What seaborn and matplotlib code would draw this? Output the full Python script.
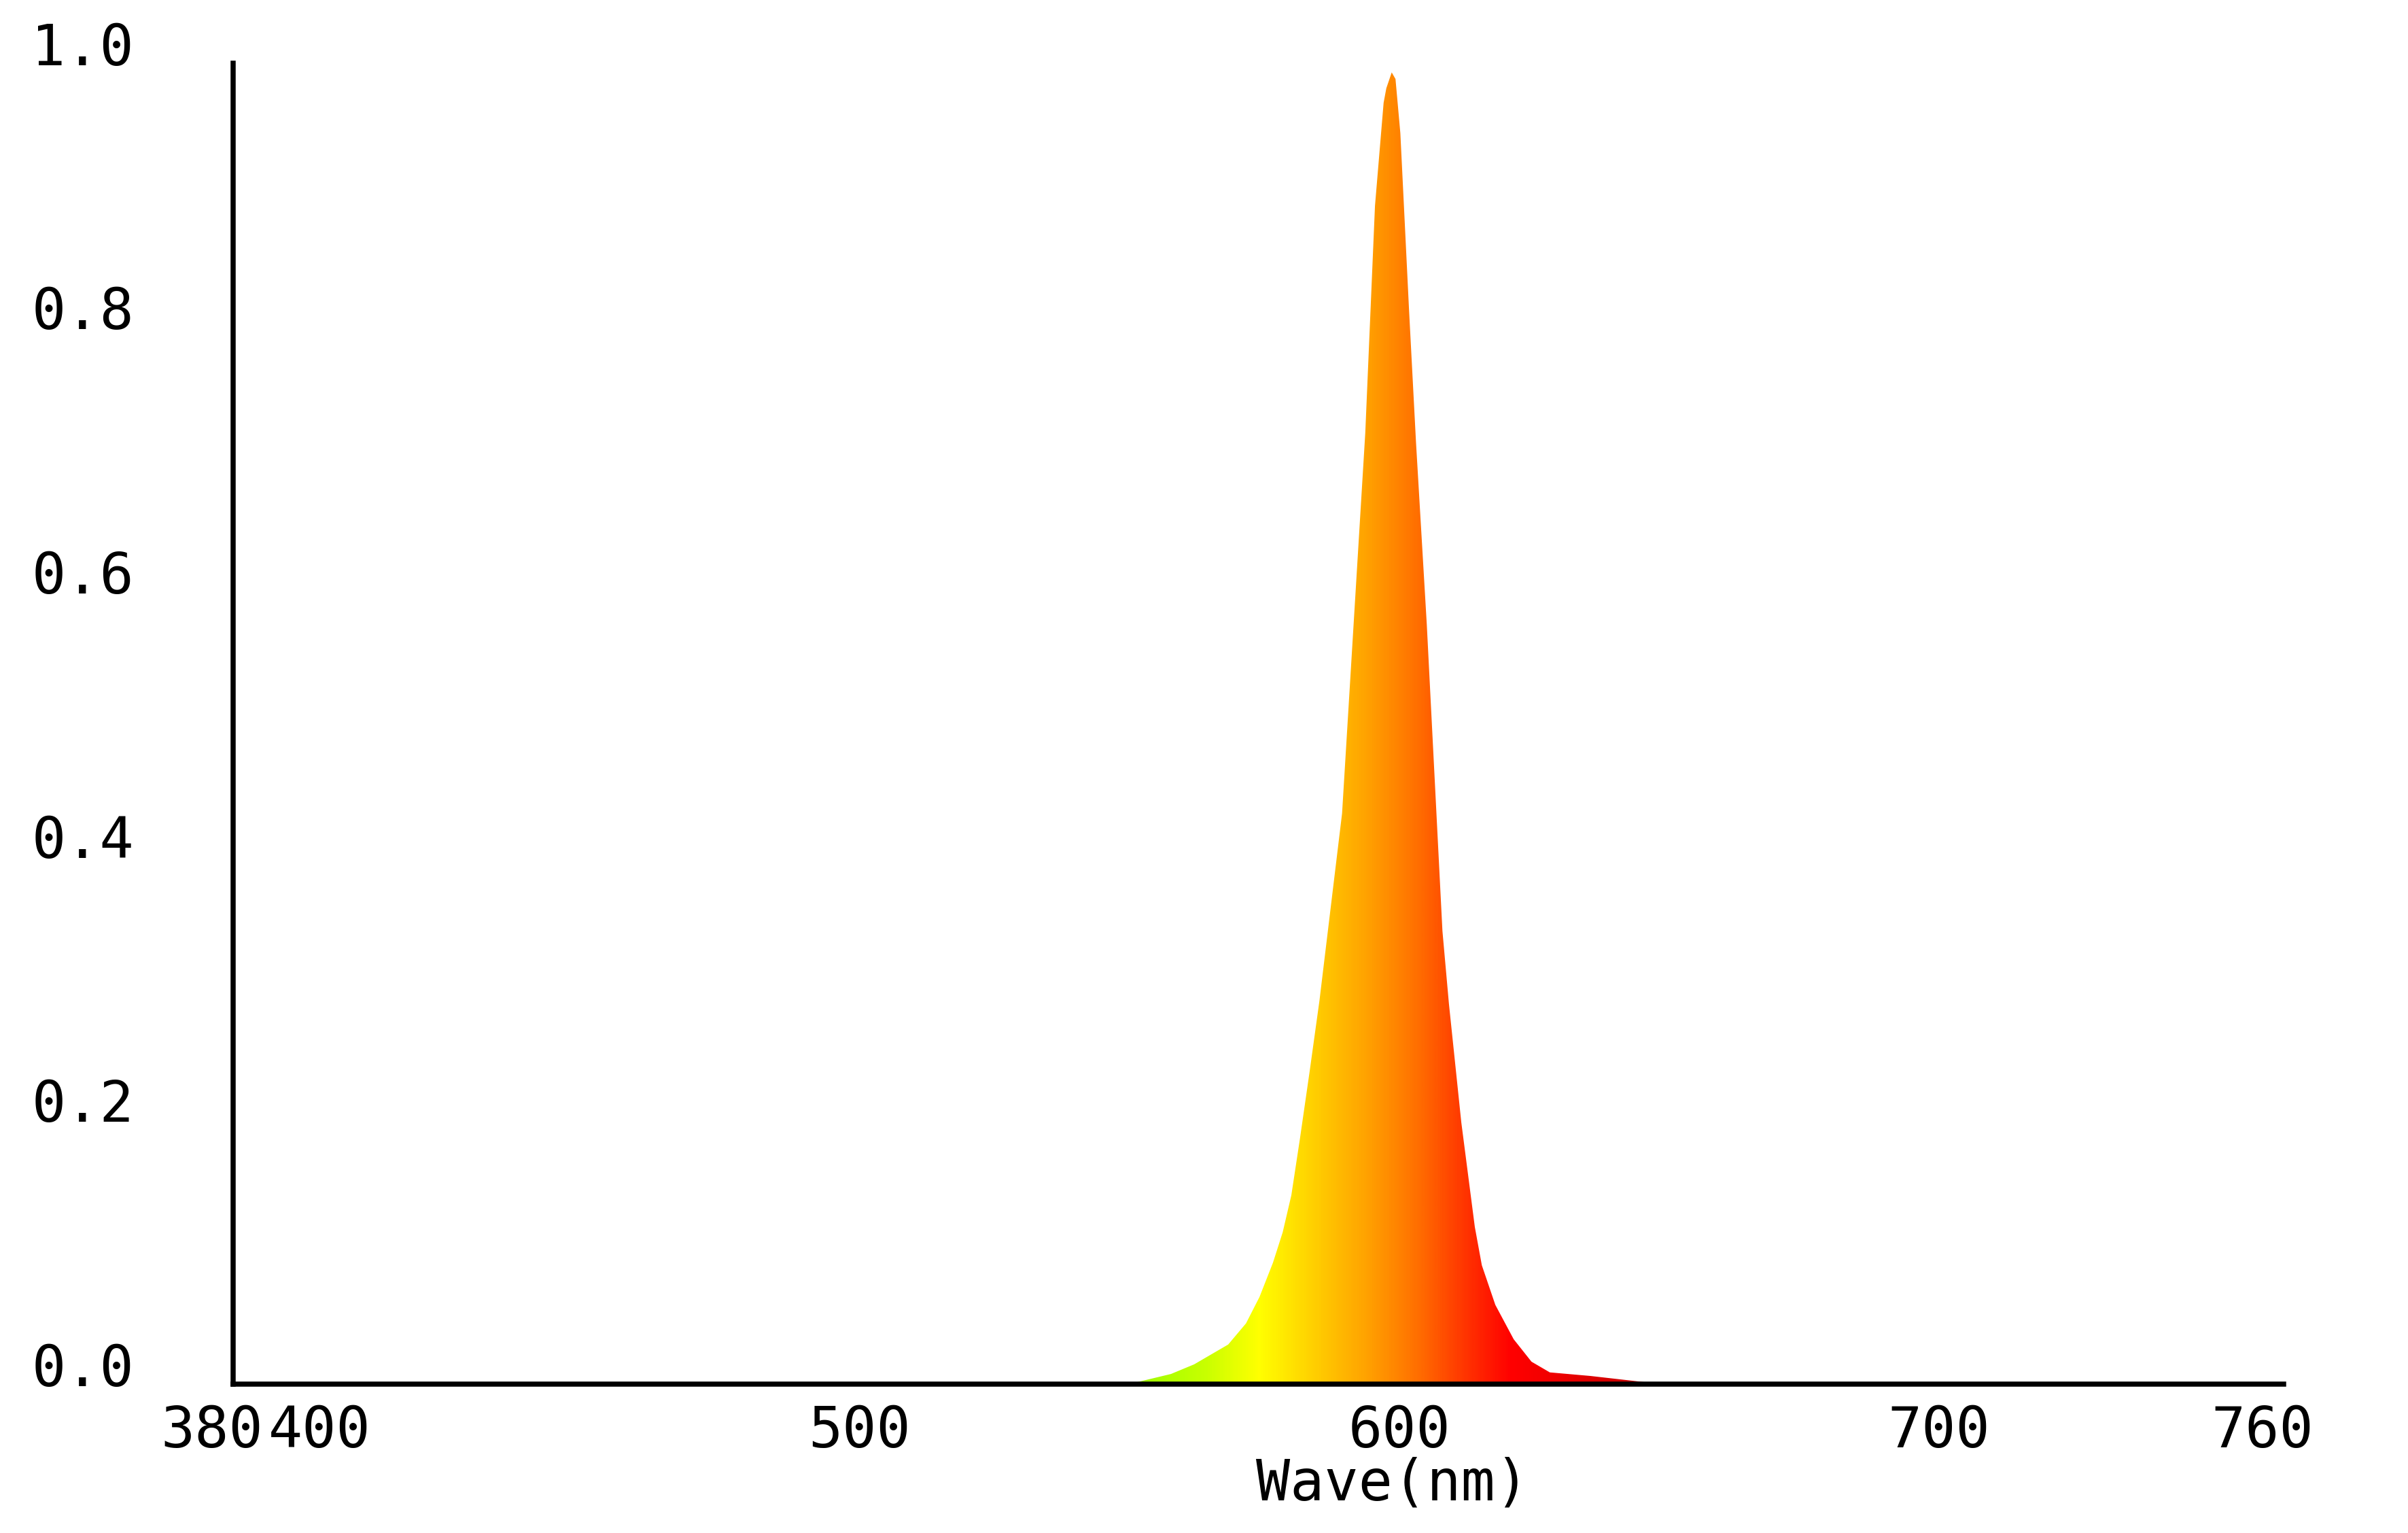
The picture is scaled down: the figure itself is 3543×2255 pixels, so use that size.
import numpy as np
import seaborn as sns
import matplotlib.pyplot as plt
from matplotlib.colors import LinearSegmentedColormap
from matplotlib.transforms import ScaledTranslation

# spectrum (relative intensity)
wavelength = [380, 545, 547.5, 553.8, 558.1, 564.4, 567.7, 570.2, 572.7, 574.5, 576.1,
              577.7, 579.5, 581.3, 585.5, 589.8, 591.6, 593.2, 593.7, 594.7, 595.4,
              596.3, 597.9, 599.2, 601.2, 604.1, 605.3, 607.6, 610.1, 611.4, 613.9,
              617.3, 620.6, 624.0, 631.5, 641.6, 645, 760]
intensity = [0, 0, 0.0015, 0.0077, 0.015, 0.030, 0.046, 0.066, 0.092, 0.115, 0.143,
             0.186, 0.237, 0.29, 0.432, 0.72, 0.892, 0.970, 0.981, 0.993, 0.988,
             0.947, 0.814, 0.713, 0.575, 0.343, 0.288, 0.198, 0.119, 0.090, 0.060,
             0.034, 0.017, 0.0089, 0.0062, 0.0015, 0, 0]

x_ticks = [380, 400, 500, 600, 700, 760]
y_ticks = [0.0, 0.2, 0.4, 0.6, 0.8, 1.0]

# colour of light along the axis
color_nm = [530, 553, 560, 570, 580, 590, 595, 600, 605, 610, 617, 625, 640, 650]
color_hex = ['#66dd00', '#b0ff00', '#c8ff00', '#ffff00', '#ffd000', '#ffa200', '#ff8800',
             '#ff6c00', '#ff4a00', '#ff2a00', '#ff0000', '#f00000', '#c80000', '#b00000']

sns.set_style('white')
plt.rcParams['font.family'] = ['DejaVu Sans Mono']

fig = plt.figure(figsize=(3543 / 300, 2255 / 300), dpi=300)
ax = fig.add_axes([0.0968, 0.0971, 0.8516, 0.8617])

sns.lineplot(x=wavelength, y=intensity, ax=ax, lw=0, color='white')

poly = ax.fill_between(wavelength, intensity, 0, facecolor='none', lw=0)

lo, hi = color_nm[0], color_nm[-1]
cmap = LinearSegmentedColormap.from_list(
    'spec', [((w - lo) / (hi - lo), c) for w, c in zip(color_nm, color_hex)])
grad = np.linspace(lo, hi, 600).reshape(1, -1)
img = ax.imshow(grad, extent=[lo, hi, 0, 1], aspect='auto', cmap=cmap,
                vmin=lo, vmax=hi, interpolation='bilinear', zorder=2)
img.set_clip_path(poly.get_paths()[0], ax.transData)

ax.set_xlim(380, 760)
ax.set_ylim(0, 1.0)
ax.set_xticks(x_ticks)
ax.set_xticklabels([str(t) for t in x_ticks])
ax.set_yticks(y_ticks)
ax.set_yticklabels(['%.1f' % t for t in y_ticks])
ax.tick_params(axis='both', length=0, labelsize=20, colors='black')
ax.tick_params(axis='x', pad=7)
ax.tick_params(axis='y', pad=35)

sns.despine(ax=ax)
for s in ['left', 'bottom']:
    ax.spines[s].set_linewidth(1.8)
    ax.spines[s].set_color('black')
    ax.spines[s].set_zorder(5)

# labels in the original sit a little left / above their ticks
for t in ax.xaxis.get_major_ticks():
    t.label1.set_transform(t.label1.get_transform()
                           + ScaledTranslation(-7.5 / 72, 0, fig.dpi_scale_trans))
for t in ax.yaxis.get_major_ticks():
    t.label1.set_transform(t.label1.get_transform()
                           + ScaledTranslation(0, 7 / 72, fig.dpi_scale_trans))

ax.set_xlabel('Wave(nm)', fontsize=20, color='black')
ax.xaxis.set_label_coords(0.5655, -0.055)
ax.set_ylabel('')

fig.savefig('out.png', dpi=300, facecolor='white')
